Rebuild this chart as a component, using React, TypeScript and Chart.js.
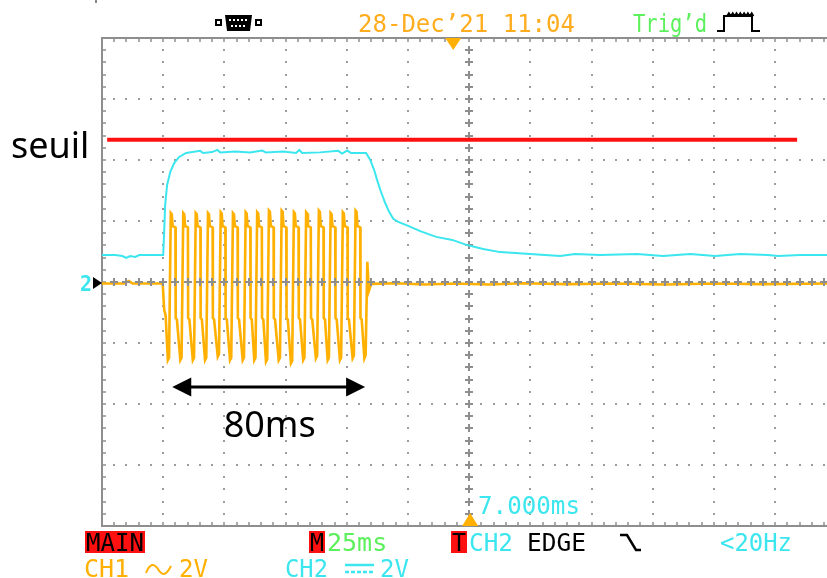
import React, { useEffect, useRef } from "react";
import { Chart, registerables } from "chart.js";

Chart.register(...registerables);

// ---------- scope scales: 25 ms/div horizontally, 2 V/div vertically ----------
const timeMinMs = -150;
const timeMaxMs = 146.2;
const voltMin = -8;
const voltMax = 8;
const msPerDiv = 25;
const voltPerDiv = 2;

// ---------- CH2 (cyan) ----------
const ch2TimeMs = [-150, -144.6, -141.7, -140.1, -138.5, -136.4, -134.8, -130.3, -125.0, -124.6, -124.2, -123.4, -122.1, -120.5, -118.5, -115.6, -109.9, -108.7, -105.0, -102.9, -101.7, -95.6, -89.5, -84.6, -83.0, -76.0, -70.7, -69.4, -68.2, -60.9, -53.5, -51.9, -49.8, -48.2, -42.1, -40.4, -38.8, -37.6, -36.0, -34.3, -32.7, -31.0, -29.0, -24.9, -20.0, -13.5, -6.9, -0.8, 5.7, 12.7, 18.8, 24.9, 31.0, 37.2, 43.3, 53.5, 68.6, 79.2, 90.3, 100.5, 110.7, 122.1, 126.2, 135.2, 146.2];
const ch2Volts = [0.885, 0.885, 0.852, 0.787, 0.852, 0.82, 0.885, 0.885, 0.885, 1.64, 2.52, 3.18, 3.61, 3.9, 4.1, 4.23, 4.3, 4.23, 4.26, 4.33, 4.25, 4.28, 4.25, 4.31, 4.25, 4.28, 4.23, 4.33, 4.23, 4.25, 4.3, 4.21, 4.31, 4.23, 4.23, 4.0, 3.67, 3.34, 2.95, 2.59, 2.3, 2.07, 1.97, 1.84, 1.67, 1.48, 1.38, 1.21, 1.08, 0.98, 0.95, 0.92, 0.885, 0.85, 0.92, 0.885, 0.92, 0.85, 0.92, 0.85, 0.92, 0.885, 0.85, 0.885, 0.885];

// ---------- CH1 (orange) ----------
const ch1PreTimeMs = [-150, -141.0, -139.0, -137.5, -125.2];
const ch1PreVolts = [-0.05, -0.05, 0.03, -0.05, -0.05];
const ch1EntryTimeMs = [-124.6, -124.0];
const ch1EntryVolts = [-0.9, -1.1];
const pulseTopMs = [-121.4, -116.3, -111.2, -106.2, -101.0, -96.0, -90.8, -86.1, -81.3, -76.1, -71.1, -66.1, -60.9, -56.1, -51.1, -45.9];
const pulseTopVolts = [2.26, 2.26, 2.26, 2.26, 2.29, 2.26, 2.29, 2.29, 2.34, 2.34, 2.29, 2.29, 2.34, 2.26, 2.29, 2.34];
const pulseBottomVolts = [-2.56, -2.56, -2.56, -2.56, -2.45, -2.56, -2.56, -2.56, -2.61, -2.56, -2.66, -2.56, -2.5, -2.56, -2.56, -2.5];
const pulseShelfHighV = 1.84;
const pulseShelfLowV = -1.18;
const ch1TailTimeMs = [-42.8, -42.3, -41.6, -41.0, -40.0, -30, -18, -6, 8, 22, 40, 60, 80, 100, 120, 146.2];
const ch1TailVolts = [-2.5, -2.4, 0.66, -0.3, -0.06, -0.04, -0.08, -0.05, -0.08, -0.04, -0.07, -0.05, -0.08, -0.05, -0.07, -0.05];

// ---------- threshold ("seuil") ----------
const thresholdTimeMs = [-147.9, 134.0];
const thresholdVolts = [4.66, 4.66];

// ---------- annotation ----------
const spanFromMs = -121.3;
const spanToMs = -42.5;
const spanVolt = -3.44;
const spanLabel = "80ms";
const thresholdLabel = "seuil";
const triggerTopMs = -6.5;
const triggerBottomMs = 0.4;

const CYAN = "#3ce6ee";
const ORANGE = "#ffb000";
const GRID = "#8e8e8e";
const GREEN = "#5cf05c";
const RED = "#ff1010";

function zip(xs: number[], ys: number[]) {
  return xs.map((x, i) => ({ x, y: ys[i] }));
}

function buildCh1() {
  const pts = zip(ch1PreTimeMs, ch1PreVolts).concat(zip(ch1EntryTimeMs, ch1EntryVolts));
  pulseTopMs.forEach((t0, i) => {
    const bot = pulseBottomVolts[i];
    const top = pulseTopVolts[i];
    pts.push(
      { x: t0 - 1.7, y: bot },
      { x: t0 - 1.2, y: bot + 0.08 },
      { x: t0 - 0.5, y: top },
      { x: t0 - 0.1, y: top - 0.04 },
      { x: t0 + 0.25, y: pulseShelfHighV },
      { x: t0 + 1.4, y: pulseShelfHighV - 0.05 },
      { x: t0 + 1.5, y: pulseShelfLowV },
      { x: t0 + 2.0, y: pulseShelfLowV - 0.05 }
    );
  });
  return pts.concat(zip(ch1TailTimeMs, ch1TailVolts));
}

function cross(ctx: CanvasRenderingContext2D, x: number, y: number, r: number) {
  ctx.moveTo(x - r, y);
  ctx.lineTo(x + r, y);
  ctx.moveTo(x, y - r);
  ctx.lineTo(x, y + r);
}

const scopePlugin = {
  id: "scopeScreen",
  beforeDatasetsDraw(chart: any) {
    const { ctx, chartArea: a, scales } = chart;
    const xs = scales.x, ys = scales.y;
    ctx.save();
    ctx.fillStyle = "#9c9c9c";
    const nDivX = 12, nDivY = 8;
    for (let i = 1; i < nDivX; i++) {
      if (i === nDivX / 2) continue;
      const px = Math.round(xs.getPixelForValue(timeMinMs + i * msPerDiv));
      if (px > a.right) continue;
      for (let j = 1; j < nDivY * 5; j++) {
        const py = Math.round(ys.getPixelForValue(voltMin + (j * voltPerDiv) / 5));
        ctx.fillRect(px - 1, py - 1, 2, 2);
      }
    }
    for (let k = 1; k < nDivY; k++) {
      if (k === nDivY / 2) continue;
      const py = Math.round(ys.getPixelForValue(voltMin + k * voltPerDiv));
      for (let j = 1; j < nDivX * 5; j++) {
        const px = Math.round(xs.getPixelForValue(timeMinMs + (j * msPerDiv) / 5));
        if (px > a.right) break;
        ctx.fillRect(px - 1, py - 1, 2, 2);
      }
    }
    ctx.strokeStyle = GRID;
    ctx.lineWidth = 2;
    ctx.beginPath();
    const cx = Math.round(xs.getPixelForValue(0));
    for (let j = 1; j < nDivY * 5; j++) {
      const py = Math.round(ys.getPixelForValue(voltMin + (j * voltPerDiv) / 5));
      cross(ctx, cx, py, 4);
    }
    ctx.stroke();
    ctx.beginPath();
    ctx.moveTo(a.right + 4, a.top);
    ctx.lineTo(a.left, a.top);
    ctx.lineTo(a.left, a.bottom);
    ctx.lineTo(a.right + 4, a.bottom);
    ctx.stroke();
    ctx.lineWidth = 1.5;
    ctx.beginPath();
    for (let j = 1; j < nDivX * 5; j++) {
      const px = Math.round(xs.getPixelForValue(timeMinMs + (j * msPerDiv) / 5));
      if (px > a.right) break;
      ctx.moveTo(px, a.top);
      ctx.lineTo(px, a.top + 4);
      ctx.moveTo(px, a.bottom);
      ctx.lineTo(px, a.bottom - 4);
    }
    for (let j = 1; j < nDivY * 5; j++) {
      const py = Math.round(ys.getPixelForValue(voltMin + (j * voltPerDiv) / 5));
      ctx.moveTo(a.left, py);
      ctx.lineTo(a.left + 4, py);
    }
    ctx.stroke();
    ctx.restore();
  },
  afterDatasetsDraw(chart: any) {
    const { ctx, chartArea: a, scales } = chart;
    const xs = scales.x, ys = scales.y;
    ctx.save();
    ctx.strokeStyle = GRID;
    ctx.lineWidth = 2;
    ctx.beginPath();
    const cy = Math.round(ys.getPixelForValue(0));
    for (let j = 1; j < 12 * 5; j++) {
      const px = Math.round(xs.getPixelForValue(timeMinMs + (j * msPerDiv) / 5));
      if (px > a.right) break;
      cross(ctx, px, cy, 4);
    }
    ctx.stroke();
    ctx.restore();
  },
  afterDraw(chart: any) {
    const { ctx, chartArea: a, scales } = chart;
    const xs = scales.x, ys = scales.y;
    ctx.save();

    ctx.fillStyle = ORANGE;
    const tx = xs.getPixelForValue(triggerTopMs);
    ctx.beginPath();
    ctx.moveTo(tx - 8, a.top);
    ctx.lineTo(tx + 8, a.top);
    ctx.lineTo(tx, a.top + 12);
    ctx.closePath();
    ctx.fill();
    const bx = xs.getPixelForValue(triggerBottomMs);
    ctx.beginPath();
    ctx.moveTo(bx - 8, a.bottom);
    ctx.lineTo(bx + 8, a.bottom);
    ctx.lineTo(bx, a.bottom - 13);
    ctx.closePath();
    ctx.fill();

    const gy = ys.getPixelForValue(0) + 1;
    ctx.fillStyle = "#000";
    ctx.beginPath();
    ctx.moveTo(a.left - 9, gy - 6);
    ctx.lineTo(a.left, gy);
    ctx.lineTo(a.left - 9, gy + 6);
    ctx.closePath();
    ctx.fill();
    ctx.fillStyle = CYAN;
    ctx.font = 'bold 21px "DejaVu Sans Mono"';
    ctx.textBaseline = "alphabetic";
    ctx.fillText("2", 80, gy + 8, 12);

    const x1 = xs.getPixelForValue(spanFromMs);
    const x2 = xs.getPixelForValue(spanToMs);
    const ay = ys.getPixelForValue(spanVolt);
    ctx.strokeStyle = "#000";
    ctx.fillStyle = "#000";
    ctx.lineWidth = 3;
    ctx.beginPath();
    ctx.moveTo(x1 + 10, ay);
    ctx.lineTo(x2 - 10, ay);
    ctx.stroke();
    ctx.beginPath();
    ctx.moveTo(x1, ay);
    ctx.lineTo(x1 + 19, ay - 9.5);
    ctx.lineTo(x1 + 19, ay + 9.5);
    ctx.closePath();
    ctx.moveTo(x2, ay);
    ctx.lineTo(x2 - 19, ay - 9.5);
    ctx.lineTo(x2 - 19, ay + 9.5);
    ctx.closePath();
    ctx.fill();
    ctx.font = '36px "Noto Sans"';
    ctx.textAlign = "center";
    ctx.fillText(spanLabel, (x1 + x2) / 2 + 1, ay + 50);
    ctx.textAlign = "left";
    const thY = ys.getPixelForValue(thresholdVolts[0]);
    ctx.fillText(thresholdLabel, 11, thY + 18);

    const mono = '25px "DejaVu Sans Mono"';
    ctx.font = mono;
    const put = (s: string, x: number, y: number, w: number, c: string) => {
      ctx.fillStyle = c;
      ctx.fillText(s, x, y, w);
    };
    put("28-Dec\u201921 11:04", 358, 32, 217, "#ffad1f");
    put("Trig\u2019d", 633, 32, 74, GREEN);
    ctx.strokeStyle = "#000";
    ctx.lineWidth = 2;
    ctx.beginPath();
    ctx.moveTo(717, 31);
    ctx.lineTo(724, 31);
    ctx.lineTo(724, 16);
    ctx.lineTo(752, 16);
    ctx.lineTo(752, 31);
    ctx.lineTo(760, 31);
    ctx.stroke();
    ctx.lineWidth = 1.5;
    ctx.beginPath();
    for (let k = 0; k < 7; k++) {
      const px = 727 + k * 3.8;
      ctx.moveTo(px, 16);
      ctx.lineTo(px + 1.9, 13);
      ctx.lineTo(px + 3.8, 16);
    }
    ctx.stroke();
    ctx.fillStyle = "#000";
    ctx.fillRect(215, 19, 7, 7);
    ctx.fillRect(255, 19, 7, 7);
    ctx.fillStyle = "#fff";
    ctx.fillRect(217, 21, 3, 3);
    ctx.fillRect(257, 21, 3, 3);
    ctx.fillStyle = "#000";
    ctx.beginPath();
    ctx.moveTo(225, 15);
    ctx.lineTo(252, 15);
    ctx.lineTo(250, 31);
    ctx.lineTo(227, 31);
    ctx.closePath();
    ctx.fill();
    ctx.fillStyle = "#fff";
    for (let k = 0; k < 5; k++) ctx.fillRect(229 + k * 4, 19, 2, 2);
    for (let k = 0; k < 4; k++) ctx.fillRect(231 + k * 4, 25, 2, 2);
    ctx.fillStyle = "#888";
    ctx.fillRect(95, 0, 2, 3);

    put("7.000ms", 478, 514, 102, CYAN);

    ctx.fillStyle = RED;
    ctx.fillRect(85, 531, 60, 22);
    ctx.fillRect(309, 531, 16, 22);
    ctx.fillRect(451, 531, 16, 22);
    put("MAIN", 86, 551, 58, "#000");
    put("M", 310, 551, 14, "#000");
    put("25ms", 327, 551, 61, GREEN);
    put("T", 452, 551, 14, "#000");
    put("CH2", 469, 551, 44, CYAN);
    put("EDGE", 527, 551, 59, "#000");
    put("<20Hz", 720, 551, 72, CYAN);
    ctx.strokeStyle = "#000";
    ctx.lineWidth = 2.5;
    ctx.beginPath();
    ctx.moveTo(620, 535);
    ctx.lineTo(627, 535);
    ctx.lineTo(636, 550);
    ctx.lineTo(641, 550);
    ctx.stroke();

    put("CH1", 84, 577, 46, ORANGE);
    put("2V", 179, 577, 29, ORANGE);
    put("CH2", 285, 577, 43, CYAN);
    put("2V", 380, 577, 29, CYAN);
    ctx.strokeStyle = ORANGE;
    ctx.lineWidth = 2;
    ctx.beginPath();
    ctx.moveTo(146, 573);
    ctx.bezierCurveTo(150, 563, 154, 563, 158, 569);
    ctx.bezierCurveTo(162, 576, 166, 576, 171, 566);
    ctx.stroke();
    ctx.strokeStyle = CYAN;
    ctx.lineWidth = 2.5;
    ctx.beginPath();
    ctx.moveTo(345, 565);
    ctx.lineTo(374, 565);
    ctx.stroke();
    ctx.setLineDash([4, 2]);
    ctx.beginPath();
    ctx.moveTo(345, 572);
    ctx.lineTo(374, 572);
    ctx.stroke();
    ctx.setLineDash([]);

    ctx.restore();
  },
};

export default function App() {
  const ref = useRef<HTMLCanvasElement | null>(null);
  useEffect(() => {
    document.body.style.margin = "0";
    const canvas = ref.current;
    if (!canvas) return;
    const chart = new Chart(canvas, {
      type: "scatter",
      data: {
        datasets: [
          {
            label: "seuil",
            data: zip(thresholdTimeMs, thresholdVolts),
            showLine: true,
            borderColor: RED,
            borderWidth: 4,
            pointRadius: 0,
          },
          {
            label: "CH1",
            data: buildCh1(),
            showLine: true,
            borderColor: ORANGE,
            borderWidth: 2.6,
            pointRadius: 0,
          },
          {
            label: "CH2",
            data: zip(ch2TimeMs, ch2Volts),
            showLine: true,
            borderColor: CYAN,
            borderWidth: 2,
            pointRadius: 0,
          },
        ],
      },
      options: {
        responsive: false,
        animation: false,
        devicePixelRatio: 1,
        events: [],
        layout: { padding: { left: 102, top: 38, right: 0, bottom: 52 } },
        plugins: { legend: { display: false }, tooltip: { enabled: false } },
        scales: {
          x: { type: "linear", min: timeMinMs, max: timeMaxMs, display: false },
          y: { type: "linear", min: voltMin, max: voltMax, display: false },
        },
      },
      plugins: [scopePlugin],
    });
    return () => chart.destroy();
  }, []);
  return (
    <div style={{ position: "fixed", left: 0, top: 0, width: 827, height: 578, background: "#fff" }}>
      <canvas ref={ref} width={827} height={578} style={{ display: "block" }} />
    </div>
  );
}
